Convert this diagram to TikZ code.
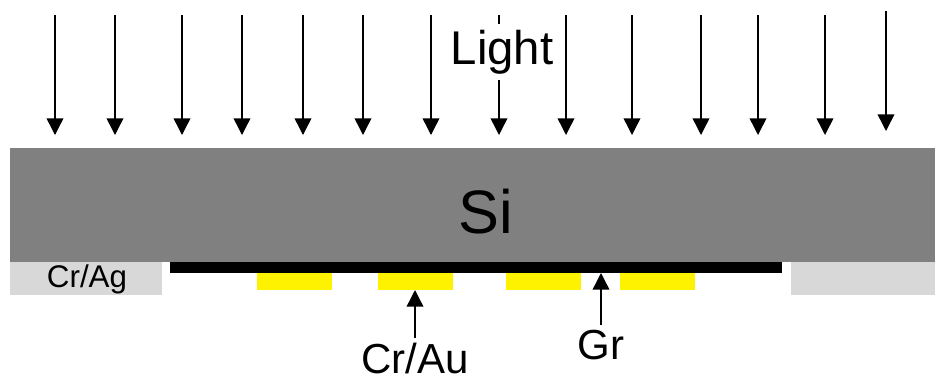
\documentclass[tikz,border=0pt]{standalone}
\usepackage{xcolor}
\usepackage{fontspec}
\usepackage{tikz}
\usetikzlibrary{arrows.meta}
\setmainfont{Liberation Sans}
\definecolor{siGray}{HTML}{808080}
\definecolor{agGray}{HTML}{D8D8D8}

\begin{document}
\begin{tikzpicture}[x=0.75pt,y=-0.75pt,
	ray/.style={line width=1.1pt,black,-{Triangle[width=12.5pt,length=12.5pt]}},
	lbl/.style={inner sep=0pt,outer sep=3.5pt,black}]
	\newcommand\dT{262}
	\newcommand\dG{273}
	\newcommand\dP{290}
	\newcommand\dA{295}
	\newcommand\dW{75}

	\useasboundingbox (0,0) rectangle (935,380);

	\fill[fill=siGray] (10,148) rectangle (935,\dT); % wafer
	\fill[fill=agGray] (10,\dT) rectangle (162,\dA);
	\fill[fill=agGray] (791,\dT) rectangle (935,\dA);
	\fill[fill=black] (170,\dT) rectangle (782,\dG); % graphene
	\fill[fill=yellow] (257,\dG) rectangle (257+\dW,\dP);
	\fill[fill=yellow] (378,\dG) rectangle (378+\dW,\dP);
	\fill[fill=yellow] (506,\dG) rectangle (506+\dW,\dP);
	\fill[fill=yellow] (620,\dG) rectangle (620+\dW,\dP);

	\coordinate (r1t) at (55,15); \coordinate (r1b) at (55,135); \draw[ray] (r1t) -- (r1b);
	\coordinate (r2t) at (115,15); \coordinate (r2b) at (115,135); \draw[ray] (r2t) -- (r2b);
	\coordinate (r3t) at (182,15); \coordinate (r3b) at (182,135); \draw[ray] (r3t) -- (r3b);
	\coordinate (r4t) at (242,15); \coordinate (r4b) at (242,135); \draw[ray] (r4t) -- (r4b);
	\coordinate (r5t) at (303,15); \coordinate (r5b) at (303,135); \draw[ray] (r5t) -- (r5b);
	\coordinate (r6t) at (363,15); \coordinate (r6b) at (363,135); \draw[ray] (r6t) -- (r6b);
	\coordinate (r7t) at (431,15); \coordinate (r7b) at (431,135); \draw[ray] (r7t) -- (r7b);
	\coordinate (r8t) at (499,15); \coordinate (r8b) at (499,135); \draw[ray] (r8t) -- (r8b);
	\coordinate (r9t) at (566,15); \coordinate (r9b) at (566,135); \draw[ray] (r9t) -- (r9b);
	\coordinate (r10t) at (632,15); \coordinate (r10b) at (632,135); \draw[ray] (r10t) -- (r10b);
	\coordinate (r11t) at (701,15); \coordinate (r11b) at (701,135); \draw[ray] (r11t) -- (r11b);
	\coordinate (r12t) at (758,15); \coordinate (r12b) at (758,135); \draw[ray] (r12t) -- (r12b);
	\coordinate (r13t) at (825,15); \coordinate (r13b) at (825,135); \draw[ray] (r13t) -- (r13b);
	\coordinate (r14t) at (886,11); \coordinate (r14b) at (886,131); \draw[ray] (r14t) -- (r14b);

	\node[fill=white,inner xsep=2pt,inner ysep=4.5pt] (light) at (502,52) {\fontsize{35.5pt}{35.5pt}\selectfont Light};
	\node[lbl] (si) at (486,212) {\fontsize{46pt}{46pt}\selectfont Si};
	\node[lbl] (crag) at (87,279) {\fontsize{23.5pt}{23.5pt}\selectfont Cr/Ag};

	\node[lbl] (crau) at (415,358) {\fontsize{31.5pt}{31.5pt}\selectfont Cr/Au};
	\coordinate (pad) at (415,290);
	\draw[ray] (crau.north) -- (pad);

	\node[lbl] (gr) at (601,345) {\fontsize{31.5pt}{31.5pt}\selectfont Gr};
	\coordinate (sheet) at (601,\dG);
	\draw[ray] (gr.north) -- (sheet);
\end{tikzpicture}
\end{document}
